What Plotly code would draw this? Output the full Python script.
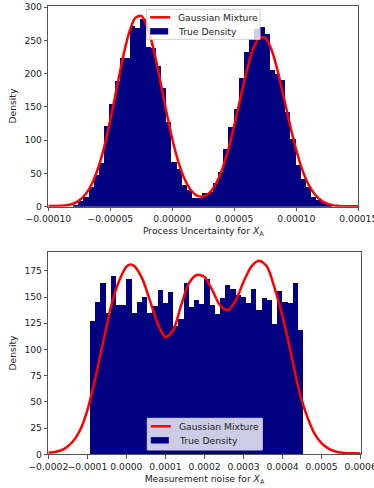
import numpy as np
import plotly.graph_objects as go

# ---------------- data ----------------
# Top panel: histogram of process uncertainty (50 bins)
top_hist_range = (-8.0e-5, 1.287e-4)
top_counts = [3, 8, 14, 30, 47, 66, 122, 154, 189, 224, 224, 272, 268, 282, 240,
              238, 212, 178, 128, 67, 57, 32, 25, 13, 13, 21, 22, 35, 52, 87,
              120, 147, 194, 232, 252, 267, 270, 260, 205, 200, 190, 143, 102, 62, 42,
              30, 15, 10, 5, 3]
# Top panel: Gaussian mixture curve (x in units of 1e-6)
top_curve_x = [-100, -95, -90, -85, -80, -75, -70, -65, -60, -55, -50, -45, -40, -35, -30,
               -25, -20, -15, -10, -5, 0, 5, 10, 15, 20, 25, 30, 35, 40, 45, 50, 55, 60,
               65, 70, 75, 80, 85, 90, 95, 100, 105, 110, 115, 120, 125, 130, 135, 140,
               145, 150]
top_curve_y = [1.0, 1.2, 1.5, 2.3, 4.5, 9.5, 18.6, 33.8, 57.0, 89.3, 130.3, 176.6, 222.4,
               260.4, 283.5, 286.8, 269.7, 235.8, 191.6, 144.8, 101.7, 66.6, 41.1, 24.7,
               16.5, 15.3, 20.9, 33.9, 55.1, 84.8, 122.2, 163.6, 203.8, 235.8, 253.7,
               253.7, 235.8, 203.8, 163.6, 122.2, 84.8, 54.7, 32.8, 18.3, 9.5, 4.6, 2.0,
               1.2, 0.8, 0.6, 0.5]

# Bottom panel: histogram of measurement noise (41 bins)
bot_hist_range = (-9.32e-5, 4.53e-4)
bot_counts = [127, 145, 163, 135, 170, 142, 142, 167, 135, 145, 150, 135, 141, 157, 144,
              155, 122, 129, 163, 140, 147, 143, 167, 142, 134, 149, 161, 158, 152, 150,
              144, 158, 138, 149, 147, 124, 156, 145, 144, 163, 119]
# Bottom panel: Gaussian mixture curve (x in units of 1e-6)
bot_curve_x = [-200, -180, -160, -140, -120, -100, -80, -60, -40, -20, 0, 10, 20, 40, 60,
               80, 100, 120, 140, 160, 180, 200, 220, 240, 260, 280, 300, 320, 340, 360,
               380, 400, 420, 440, 460, 480, 500, 520, 540, 560, 580, 600]
bot_curve_y = [1.4, 2.4, 5.0, 11.0, 22.0, 42.0, 72.0, 106.0, 140.0, 164.0, 179.0, 181.0,
               179.5, 168.0, 147.0, 125.0, 111.5, 118.5, 142.0, 163.0, 171.0, 169.0, 156.5,
               142.0, 137.5, 147.0, 164.5, 179.0, 184.5, 179.0, 158.0, 131.0, 99.0, 64.0,
               39.0, 21.0, 10.5, 5.0, 2.2, 1.3, 1.0, 0.8]

top_xtick_vals = [-0.0001, -0.00005, 0.0, 0.00005, 0.0001, 0.00015]
top_xtick_text = ["\u22120.00010", "\u22120.00005", "0.00000", "0.00005", "0.00010", "0.00015"]
top_ytick_vals = [0, 50, 100, 150, 200, 250, 300]
bot_xtick_vals = [-0.0002, -0.0001, 0.0, 0.0001, 0.0002, 0.0003, 0.0004, 0.0005, 0.0006]
bot_xtick_text = ["\u22120.0002", "\u22120.0001", "0.0000", "0.0001", "0.0002", "0.0003",
                  "0.0004", "0.0005", "0.0006"]
bot_ytick_vals = [0, 25, 50, 75, 100, 125, 150, 175]
legend_labels = ["Gaussian Mixture", "True Density"]

# ---------------- build ----------------
def bins(rng, counts):
    n = len(counts)
    edges = np.linspace(rng[0], rng[1], n + 1)
    return (edges[:-1] + edges[1:]) / 2, np.diff(edges)

top_c, top_w = bins(top_hist_range, top_counts)
bot_c, bot_w = bins(bot_hist_range, bot_counts)

NAVY = "#000080"
RED = "#ff0000"
W, H = 374, 488
FONT = "DejaVu Sans"
AX = "#555555"
TXT = "#222222"

fig = go.Figure()
fig.add_trace(go.Scatter(x=np.array(top_curve_x) * 1e-6, y=top_curve_y, mode="lines",
                         line=dict(color=RED, width=2.5, shape="spline", smoothing=0.8),
                         name=legend_labels[0], showlegend=False, xaxis="x", yaxis="y"))
fig.add_trace(go.Bar(x=top_c, y=top_counts, width=top_w, marker=dict(color=NAVY, line=dict(width=0)),
                     name=legend_labels[1], showlegend=False, xaxis="x", yaxis="y"))
fig.add_trace(go.Scatter(x=np.array(bot_curve_x) * 1e-6, y=bot_curve_y, mode="lines",
                         line=dict(color=RED, width=2.5, shape="spline", smoothing=0.8),
                         name=legend_labels[0], showlegend=False, xaxis="x2", yaxis="y2"))
fig.add_trace(go.Bar(x=bot_c, y=bot_counts, width=bot_w, marker=dict(color=NAVY, line=dict(width=0)),
                     name=legend_labels[1], showlegend=False, xaxis="x2", yaxis="y2"))

tickfont = dict(family=FONT, size=9.2, color=TXT)
axcommon = dict(showgrid=False, zeroline=False, showline=True, mirror=True, linecolor=AX,
                linewidth=1, ticks="outside", ticklen=3.5, tickcolor=AX, tickwidth=1,
                tickfont=tickfont, automargin=False, tickangle=0, ticklabeloverflow="allow")


def px_x(p):
    return p / W


def px_y(p):
    return 1 - p / H


fig.update_layout(
    width=W, height=H, margin=dict(l=0, r=0, t=0, b=0, autoexpand=False),
    paper_bgcolor="white", plot_bgcolor="white", bargap=0, barmode="overlay",
    font=dict(family=FONT, size=9, color=TXT), showlegend=False, hovermode=False,
    xaxis=dict(domain=[px_x(48.3), px_x(358.3)], range=[-0.0001, 0.00015], anchor="y",
               tickvals=top_xtick_vals, ticktext=top_xtick_text,
               title=dict(text="Process Uncertainty for <i>X</i><sub>A</sub>",
                          font=dict(family=FONT, size=9.2), standoff=4), **axcommon),
    yaxis=dict(domain=[px_y(206.7), px_y(5.5)], range=[0, 302.4], anchor="x",
               tickvals=top_ytick_vals,
               title=dict(text="Density", font=dict(family=FONT, size=9.2), standoff=6), **axcommon),
    xaxis2=dict(domain=[px_x(48.3), px_x(360.7)], range=[-0.0002, 0.0006], anchor="y2",
                tickvals=bot_xtick_vals, ticktext=bot_xtick_text,
                title=dict(text="Measurement noise for <i>X</i><sub>A</sub>",
                           font=dict(family=FONT, size=9.2), standoff=4), **axcommon),
    yaxis2=dict(domain=[px_y(454.3), px_y(251.7)], range=[0, 193.2], anchor="x2",
                tickvals=bot_ytick_vals,
                title=dict(text="Density", font=dict(family=FONT, size=9.2), standoff=6), **axcommon),
)

# Legend boxes drawn as shapes + text (matplotlib-style legends)
shapes = []
annots = []
for (bx0, by0, bx1, by1) in [(146.7, 9.3, 260.0, 39.3), (147.3, 418.3, 262.3, 450.0)]:
    shapes.append(dict(type="rect", xref="paper", yref="paper", layer="above",
                       x0=px_x(bx0), x1=px_x(bx1), y0=px_y(by1), y1=px_y(by0),
                       fillcolor="rgba(255,255,255,0.8)", line=dict(color="#d0d0d0", width=1)))
    ly1 = by0 + 8.0
    ly2 = by0 + 22.0
    shapes.append(dict(type="line", xref="paper", yref="paper", layer="above",
                       x0=px_x(bx0 + 3.5), x1=px_x(bx0 + 23.5), y0=px_y(ly1), y1=px_y(ly1),
                       line=dict(color=RED, width=2.5)))
    shapes.append(dict(type="rect", xref="paper", yref="paper", layer="above",
                       x0=px_x(bx0 + 3.5), x1=px_x(bx0 + 21.5), y0=px_y(ly2 + 3.2), y1=px_y(ly2 - 3.2),
                       fillcolor=NAVY, line=dict(width=0)))
    for lab, yy in zip(legend_labels, [ly1, ly2]):
        annots.append(dict(text=lab, xref="paper", yref="paper", x=px_x(bx0 + 29.5), y=px_y(yy),
                           xanchor="left", yanchor="middle", showarrow=False,
                           font=dict(family=FONT, size=9.2, color=TXT)))

fig.update_layout(shapes=shapes, annotations=annots)

fig.write_html("out.html", config={"displayModeBar": False, "staticPlot": True},
               post_script="document.body.style.margin='0px';")
